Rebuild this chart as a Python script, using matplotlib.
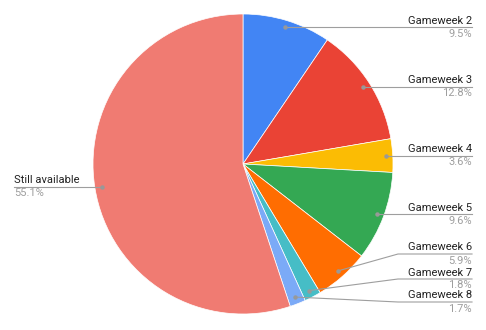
import matplotlib
matplotlib.use("Agg")
import matplotlib.pyplot as plt
import numpy as np

plt.rcParams['font.family'] = ['Roboto', 'DejaVu Sans']

labels = ["Gameweek 2", "Gameweek 3", "Gameweek 4", "Gameweek 5",
          "Gameweek 6", "Gameweek 7", "Gameweek 8", "Still available"]
values = [9.5, 12.8, 3.6, 9.6, 5.9, 1.8, 1.7, 55.1]
colors = ["#4285F4", "#EA4335", "#FBBC04", "#34A853",
          "#FF6D01", "#46BDC6", "#7BAAF7", "#F07B72"]

W, H = 486, 330
cx, cy, R = 243, 330 - 164, 150

fig = plt.figure(figsize=(W / 100, H / 100), dpi=100)
ax = fig.add_axes([0, 0, 1, 1])
ax.set_xlim(0, W)
ax.set_ylim(0, H)
ax.axis('off')

wedges, _ = ax.pie(values, colors=colors, startangle=90, counterclock=False,
                   center=(cx, cy), radius=R,
                   wedgeprops=dict(edgecolor='white', linewidth=0.5))
ax.set_xlim(0, W)
ax.set_ylim(0, H)
ax.set_aspect('equal')

# label line heights (pixels from top), None = same as dot
line_y = [None, None, None, None, 254, 279, 302, None]
right_x = 472
kink_x = 398
total = sum(values)
cum = 0
for i, (lab, v) in enumerate(zip(labels, values)):
    mid = 90 - (cum + v / 2) / total * 360
    cum += v
    a = np.deg2rad(mid)
    dx = cx + 0.953 * R * np.cos(a)
    dy = cy + 0.953 * R * np.sin(a)
    ax.plot(dx, dy, 'o', color='#999999', ms=2.2, zorder=5)
    pct = f"{v:.1f}%"
    if np.cos(a) >= 0:
        ly = dy if line_y[i] is None else H - line_y[i]
        if line_y[i] is None:
            xs, ys = [dx, right_x], [dy, ly]
        else:
            xs, ys = [dx, kink_x, right_x], [dy, ly, ly]
        ax.plot(xs, ys, color='#9e9e9e', lw=0.8, zorder=4)
        ax.text(right_x, ly + 1.5, lab, ha='right', va='bottom', fontsize=8, color='#222222')
        ax.text(right_x, ly - 1.5, pct, ha='right', va='top', fontsize=8, color='#9e9e9e')
    else:
        ly = dy
        ax.plot([14, dx], [ly, ly], color='#9e9e9e', lw=0.8, zorder=4)
        ax.text(14, ly + 1.5, lab, ha='left', va='bottom', fontsize=8, color='#222222')
        ax.text(14, ly - 1.5, pct, ha='left', va='top', fontsize=8, color='#9e9e9e')

fig.savefig("out.png", dpi=100)
